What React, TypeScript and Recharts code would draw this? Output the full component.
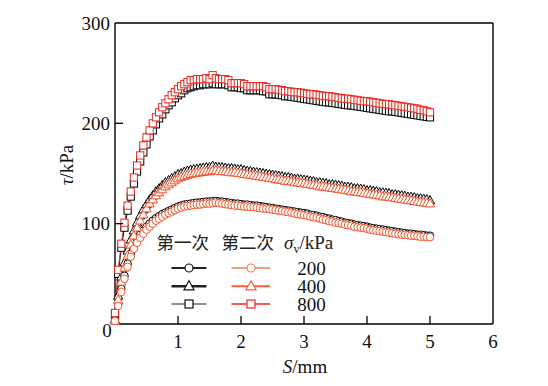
import React from 'react';
import { ComposedChart, Line, XAxis, YAxis } from 'recharts';

// displacement S (mm)
const S = [
  0, 0.05, 0.1, 0.15, 0.2, 0.25, 0.3, 0.35, 0.4, 0.45,
  0.5, 0.55, 0.6, 0.65, 0.7, 0.75, 0.8, 0.85, 0.9, 0.95,
  1.0, 1.05, 1.1, 1.15, 1.2, 1.25, 1.3, 1.35, 1.4, 1.45,
  1.5, 1.55, 1.6, 1.65, 1.7, 1.75, 1.8, 1.85, 1.9, 1.95,
  2.0, 2.05, 2.1, 2.15, 2.2, 2.25, 2.3, 2.35, 2.4, 2.45,
  2.5, 2.55, 2.6, 2.65, 2.7, 2.75, 2.8, 2.85, 2.9, 2.95,
  3.0, 3.05, 3.1, 3.15, 3.2, 3.25, 3.3, 3.35, 3.4, 3.45,
  3.5, 3.55, 3.6, 3.65, 3.7, 3.75, 3.8, 3.85, 3.9, 3.95,
  4.0, 4.05, 4.1, 4.15, 4.2, 4.25, 4.3, 4.35, 4.4, 4.45,
  4.5, 4.55, 4.6, 4.65, 4.7, 4.75, 4.8, 4.85, 4.9, 4.95,
  5.0,
];

// first test (black)
const first200 = [
  4, 20, 35, 48, 60, 70, 78, 84, 89, 93,
  97, 100, 103, 105.5, 107.5, 109.5, 111, 112.5, 114, 115.5,
  117, 118, 119, 119.5, 120, 120.5, 121, 121, 121.5, 122,
  122, 122.5, 122.5, 122, 122, 121.5, 121, 120.5, 120, 120,
  119.5, 119, 119, 118.5, 118, 118, 117.5, 117, 116.5, 116,
  115.5, 115, 114.5, 114, 113.5, 113, 112.5, 112, 111.5, 111,
  110.5, 110, 109, 108.5, 108, 107, 106.5, 105.5, 105, 104,
  103.5, 102.5, 102, 101, 100.5, 100, 99, 98.5, 98, 97.5,
  97, 96, 95.5, 95, 94.5, 94, 93.5, 93, 92.5, 92,
  91.5, 91, 90.5, 90, 90, 89.5, 89, 89, 88.5, 88,
  88,
];
const first400 = [
  4, 28, 47, 61, 73, 84, 93, 101, 108, 114,
  119, 124, 128, 132, 135, 138, 141, 143, 145, 147,
  149, 150, 151.5, 152.5, 153.5, 154, 154.5, 155, 155.5, 156,
  156, 157.5, 156.5, 156, 156, 155.5, 155, 155, 154.5, 154,
  154, 153, 152.5, 152, 151.5, 151, 150.5, 150, 149.5, 149,
  148.5, 148, 147.5, 147, 146, 146, 145.5, 144.5, 144.5, 144,
  143.5, 143, 142.5, 142, 141, 141, 140.5, 140, 139, 139,
  138.5, 138, 137.5, 136.5, 136.5, 136, 135, 135, 134.5, 134,
  133, 133, 132.5, 132, 131, 131, 130.5, 130, 129, 129,
  128.5, 128, 127.5, 126.5, 126.5, 126, 125, 125, 124.5, 124,
  123,
];
const first800 = [
  10, 50, 76, 96, 113, 127, 140, 152, 162, 171,
  179, 187, 193, 199, 205, 209, 214, 218, 221, 225,
  228, 230, 233, 235, 236, 237, 238, 238, 239, 239,
  239, 240, 239, 239, 239, 239, 238, 236, 236, 236,
  235, 235, 233, 233, 233, 233, 233, 232, 232, 229,
  229, 229, 228.5, 228, 227, 227, 226.5, 226, 225.5, 225,
  224.5, 224, 223.5, 223, 222.5, 222, 221.5, 221, 221, 220.5,
  220, 219.5, 219, 218.5, 218, 218, 217.5, 217, 216.5, 216,
  215.5, 215, 214.5, 214, 213.5, 213, 212.5, 212, 212, 211.5,
  211, 210.5, 210, 209.5, 209, 208.5, 208, 207.5, 207, 206.5,
  206,
];

// second test (red)
const second200 = [
  3, 18, 32, 45, 57, 67, 75, 81, 86, 90,
  94, 97, 100, 103, 105, 107, 109, 110.5, 112, 113.5,
  115, 116, 117, 117.5, 118, 118.5, 119, 119, 119.5, 120,
  120, 120.5, 121, 120.5, 120, 119.5, 119, 118.5, 118, 118,
  117.5, 117, 117, 116.5, 116.5, 116, 115.5, 115, 115, 114.5,
  114, 113.5, 113, 112.5, 112, 111.5, 111, 110, 109.5, 109,
  108.5, 108, 107, 106.5, 106, 105, 104, 103.5, 102.5, 102,
  101, 100.5, 100, 99, 98.5, 98, 97, 96.5, 96, 95.5,
  95, 94, 93.5, 93, 92.5, 92, 91.5, 91, 90.5, 90,
  89.5, 89, 89, 88.5, 88, 88, 87.5, 87, 87, 86.5,
  86.5,
];
const second400 = [
  3, 24, 42, 56, 68, 79, 88, 96, 103, 109,
  115, 120, 124, 128, 131, 134, 137, 139, 141, 143,
  145, 146.5, 147.5, 148.5, 149.5, 150, 150.5, 151, 151.5, 152,
  152, 153, 153, 152.5, 152, 152, 151.5, 151, 151, 150.5,
  150, 149.5, 149, 148.5, 148, 147.5, 147, 146.5, 146, 145.5,
  145, 144, 144, 143.5, 142.5, 142.5, 142, 141, 141, 140.5,
  140, 139.5, 139, 138.5, 138, 137, 137, 136.5, 136, 135.5,
  135, 134.5, 134, 133.5, 133, 132, 132, 131.5, 131, 130.5,
  130, 129.5, 129, 128.5, 128, 127, 127, 126.5, 126, 125.5,
  125, 124.5, 124, 123.5, 123, 122.5, 122, 121.5, 121, 120.5,
  120,
];
const second800 = [
  11, 54, 80, 101, 118, 132, 146, 158, 168, 178,
  186, 193, 200, 206, 211, 216, 220, 224, 228, 231,
  234, 237, 239, 241, 243, 243, 244, 244, 244, 245,
  244, 248, 245, 244, 244, 244, 243, 240, 240, 240,
  240, 239, 237, 237, 237, 237, 237, 237, 236, 234,
  234, 234, 233.5, 233, 232, 232, 231.5, 231, 231, 230.5,
  230, 229.5, 229, 229, 228.5, 228, 227.5, 227, 227, 226.5,
  226, 225.5, 225, 224.5, 224.5, 224, 223.5, 223, 222.5, 222,
  222, 221.5, 221, 220.5, 220, 219.5, 219, 219, 218.5, 218,
  217.5, 217, 216.5, 216, 215.5, 215, 214.5, 213.5, 213, 212,
  211,
];

const xTicks = [0, 1, 2, 3, 4, 5, 6];
const yTicks = [0, 100, 200, 300];
const levels = ['200', '400', '800'];

const data = S.map((s, i) => ({
  s,
  b200: first200[i],
  b400: first400[i],
  b800: first800[i],
  r200: second200[i],
  r400: second400[i],
  r800: second800[i],
}));

const SERIF = 'Liberation Serif, Times New Roman, Times, serif';
const CJK = 'Noto Sans CJK SC, Noto Sans CJK JP, sans-serif';
const RED200 = '#f0552b';
const RED400 = '#ef4f29';
const RED800 = '#e5271d';

const serifStyle = { fontFamily: SERIF };

const circleDot = (color: string) => (p: any) => {
  if (p.cx == null || p.cy == null) return <g key={`c${p.index}`} />;
  return <circle key={`c${p.index}`} cx={p.cx} cy={p.cy} r={3.8} fill="#fff" stroke={color} strokeWidth={1} />;
};
const triDot = (color: string) => (p: any) => {
  if (p.cx == null || p.cy == null) return <g key={`t${p.index}`} />;
  const { cx, cy } = p;
  return (
    <polygon
      key={`t${p.index}`}
      points={`${cx},${cy - 5} ${cx - 4.6},${cy + 3.3} ${cx + 4.6},${cy + 3.3}`}
      fill="#fff"
      stroke={color}
      strokeWidth={1}
    />
  );
};
const sqDot = (color: string) => (p: any) => {
  if (p.cx == null || p.cy == null) return <g key={`s${p.index}`} />;
  return <rect key={`s${p.index}`} x={p.cx - 3.6} y={p.cy - 3.6} width={7.2} height={7.2} fill="#fff" stroke={color} strokeWidth={1} />;
};

const XTick = (props: any) => {
  const { x, y, payload } = props;
  const v = payload.value;
  return (
    <g>
      {v > 0 && v < 6 && <line x1={x} y1={y} x2={x} y2={y - 8} stroke="#000" strokeWidth={1.3} />}
      {v === 0 ? (
        <text x={x - 8} y={y + 13} textAnchor="middle" style={serifStyle} fontSize={19} fill="#111">0</text>
      ) : (
        <text x={x} y={y + 24} textAnchor="middle" style={serifStyle} fontSize={19} fill="#111">{v}</text>
      )}
    </g>
  );
};

const YTick = (props: any) => {
  const { x, y, payload } = props;
  const v = payload.value;
  if (v === 0) return <g />;
  return (
    <g>
      {v < 300 && <line x1={x} y1={y} x2={x + 8} y2={y} stroke="#000" strokeWidth={1.3} />}
      <text x={x - 5} y={y + 6.5} textAnchor="end" style={serifStyle} fontSize={19} fill="#111">{v}</text>
    </g>
  );
};

const legendRows = [
  { label: levels[0], shape: 'c', bw: 1.8, rw: 1.5, rc: '#f47a52' },
  { label: levels[1], shape: 't', bw: 2.4, rw: 2, rc: '#f0613a' },
  { label: levels[2], shape: 's', bw: 1.2, rw: 1.3, rc: '#e8261c' },
];

const LegendMarker = ({ shape, cx, cy, color }: any) => {
  if (shape === 'c') return <circle cx={cx} cy={cy} r={4} fill="#fff" stroke={color} strokeWidth={1.2} />;
  if (shape === 't')
    return (
      <polygon points={`${cx},${cy - 5.5} ${cx - 5},${cy + 3.5} ${cx + 5},${cy + 3.5}`} fill="#fff" stroke={color} strokeWidth={1.2} />
    );
  return <rect x={cx - 4} y={cy - 4} width={8} height={8} fill="#fff" stroke={color} strokeWidth={1.2} />;
};

export default function App() {
  const rowY = [260, 278.3, 296];
  return (
    <div style={{ position: 'relative', width: 540, height: 378 }}>
      <ComposedChart width={540} height={378} data={data} margin={{ top: 14, right: 54, bottom: 61, left: 106 }}>
        <XAxis
          dataKey="s"
          type="number"
          domain={[0, 6]}
          ticks={xTicks}
          interval={0}
          height={1}
          tickSize={0}
          tickMargin={0}
          tickLine={false}
          axisLine={{ stroke: '#000', strokeWidth: 1.4 }}
          tick={<XTick />}
        />
        <XAxis
          xAxisId="top"
          orientation="top"
          type="number"
          domain={[0, 6]}
          height={1}
          tick={false}
          tickLine={false}
          axisLine={{ stroke: '#000', strokeWidth: 1.4 }}
        />
        <YAxis
          type="number"
          domain={[0, 300]}
          ticks={yTicks}
          interval={0}
          width={1}
          tickSize={0}
          tickMargin={0}
          tickLine={false}
          axisLine={{ stroke: '#000', strokeWidth: 1.4 }}
          tick={<YTick />}
        />
        <YAxis
          yAxisId="right"
          orientation="right"
          type="number"
          domain={[0, 300]}
          width={1}
          tick={false}
          tickLine={false}
          axisLine={{ stroke: '#000', strokeWidth: 1.4 }}
        />
        <Line dataKey="b800" stroke="#000" strokeWidth={1} dot={sqDot('#000')} isAnimationActive={false} type="linear" />
        <Line dataKey="b400" stroke="#000" strokeWidth={1} dot={triDot('#000')} isAnimationActive={false} type="linear" />
        <Line dataKey="b200" stroke="#000" strokeWidth={1} dot={circleDot('#000')} isAnimationActive={false} type="linear" />
        <Line dataKey="r800" stroke={RED800} strokeWidth={1} dot={sqDot(RED800)} isAnimationActive={false} type="linear" />
        <Line dataKey="r400" stroke={RED400} strokeWidth={1} dot={triDot(RED400)} isAnimationActive={false} type="linear" />
        <Line dataKey="r200" stroke={RED200} strokeWidth={1} dot={circleDot(RED200)} isAnimationActive={false} type="linear" />
      </ComposedChart>
      <svg width={540} height={378} style={{ position: 'absolute', left: 0, top: 0, pointerEvents: 'none' }}>
        <text transform="translate(65,157) rotate(-90)" textAnchor="middle" style={serifStyle} fontSize={19} fill="#111">
          <tspan fontStyle="italic">τ</tspan>/kPa
        </text>
        <text x={297} y={365} textAnchor="middle" style={serifStyle} fontSize={19} fill="#111">
          <tspan fontStyle="italic">S</tspan>/mm
        </text>
        <text x={148.5} y={241} style={{ fontFamily: CJK }} fontSize={17.5} fill="#222">第一次</text>
        <text x={213.5} y={241} style={{ fontFamily: CJK }} fontSize={17.5} fill="#222">第二次</text>
        <text x={276} y={241} style={serifStyle} fontSize={19} fill="#222">
          <tspan fontStyle="italic">σ</tspan>
          <tspan fontSize={12} dy={4}>v</tspan>
          <tspan dy={-4}>/kPa</tspan>
        </text>
        {legendRows.map((r, i) => (
          <g key={r.label}>
            <line x1={163.5} y1={rowY[i]} x2={198.5} y2={rowY[i]} stroke="#222" strokeWidth={r.bw} />
            <LegendMarker shape={r.shape} cx={181} cy={rowY[i]} color="#111" />
            <line x1={223.5} y1={rowY[i]} x2={262} y2={rowY[i]} stroke={r.rc} strokeWidth={r.rw} />
            <LegendMarker shape={r.shape} cx={243} cy={rowY[i]} color={r.rc} />
            <text x={303.5} y={rowY[i] + 7} textAnchor="middle" style={serifStyle} fontSize={19} fill="#111">{r.label}</text>
          </g>
        ))}
      </svg>
    </div>
  );
}
